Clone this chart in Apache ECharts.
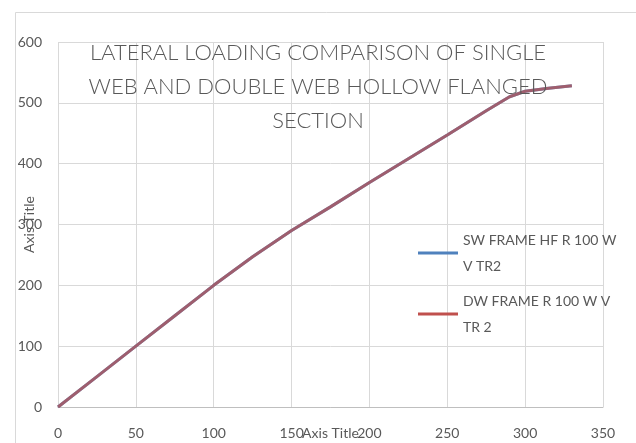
<!DOCTYPE html>
<html>
<head>
<meta charset="utf-8">
<script src="https://cdn.jsdelivr.net/npm/echarts@6/dist/echarts.min.js"></script>
<style>
  html, body { margin: 0; padding: 0; background: #ffffff; }
  #chart { width: 636px; height: 443px; }
</style>
</head>
<body>
<div id="chart"></div>
<script>
// Lateral displacement (x) against lateral load (y)
const displacement = [0, 25, 50, 75, 100, 125, 150, 175, 200, 225, 250, 275, 290, 300, 315, 330];
const swLoad = [0, 50, 100, 150, 200, 247, 290, 329, 369, 408, 447, 487, 510, 519, 524, 528];
const dwLoad = [0, 50, 100, 150, 200, 247, 290, 329, 369, 408, 447, 487, 510, 519, 524, 528];

const seriesNames = ['SW FRAME HF R 100 W V TR2', 'DW FRAME R 100 W V TR 2'];
const legendLabels = ['SW FRAME HF R 100 W\nV TR2', 'DW FRAME R 100 W V\nTR 2'];
const titleText = 'LATERAL LOADING COMPARISON OF SINGLE\nWEB AND DOUBLE WEB HOLLOW FLANGED\nSECTION';
const xTicks = { min: 0, max: 350, interval: 50 };
const yTicks = { min: 0, max: 600, interval: 100 };

const FONT = 'Lato, "Liberation Sans", sans-serif';
const GREY = '#595959';

function pairs(xs, ys) { return xs.map((x, i) => [x, ys[i]]); }

const chart = echarts.init(document.getElementById('chart'), null, { renderer: 'canvas' });
chart.setOption({
  animation: false,
  backgroundColor: '#ffffff',
  graphic: [{
    type: 'rect', left: 13, top: 10, z: -1,
    shape: { width: 700, height: 500 },
    style: { fill: 'none', stroke: '#d9d9d9', lineWidth: 1 }
  }],
  title: {
    text: titleText,
    left: 'center', top: 31,
    textStyle: { fontFamily: FONT, fontWeight: 300, fontSize: 22, color: GREY, lineHeight: 34 }
  },
  grid: { left: 58, right: 33, top: 42, bottom: 36, containLabel: false, outerBoundsMode: 'none' },
  xAxis: {
    type: 'value', min: xTicks.min, max: xTicks.max, interval: xTicks.interval,
    name: 'Axis Title', nameLocation: 'middle', nameGap: 19, nameMoveOverlap: false,
    nameTextStyle: { fontFamily: FONT, fontSize: 14, color: GREY },
    axisLine: { show: true, lineStyle: { color: '#bfbfbf' } },
    axisTick: { show: false },
    axisLabel: { fontFamily: FONT, fontSize: 14, color: GREY, margin: 19 },
    splitLine: { show: true, lineStyle: { color: '#d9d9d9' } }
  },
  yAxis: {
    type: 'value', min: yTicks.min, max: yTicks.max, interval: yTicks.interval,
    name: 'Axis Title', nameLocation: 'middle', nameGap: 22, nameRotate: 90, nameMoveOverlap: false,
    nameTextStyle: { fontFamily: FONT, fontSize: 14, color: GREY },
    axisLine: { show: false },
    axisTick: { show: false },
    axisLabel: { fontFamily: FONT, fontSize: 14, color: GREY, margin: 16 },
    splitLine: { show: true, lineStyle: { color: '#d9d9d9' } }
  },
  legend: {
    orient: 'vertical', left: 418, top: 214, padding: 0, itemGap: -17,
    itemWidth: 40, itemHeight: 3, icon: 'rect',
    formatter: name => legendLabels[seriesNames.indexOf(name)],
    textStyle: { fontFamily: FONT, fontSize: 14, color: GREY, lineHeight: 26, padding: [26, 0, 0, 0] },
    data: seriesNames
  },
  series: [
    {
      name: seriesNames[0], type: 'line', data: pairs(displacement, swLoad),
      showSymbol: false, symbol: 'none', color: '#4f81bd',
      lineStyle: { width: 3, color: '#4f81bd' }
    },
    {
      name: seriesNames[1], type: 'line', data: pairs(displacement, dwLoad),
      showSymbol: false, symbol: 'none', color: '#c0504d',
      lineStyle: { width: 3, color: '#c0504d', opacity: 0.7 }
    }
  ]
});
</script>
</body>
</html>
